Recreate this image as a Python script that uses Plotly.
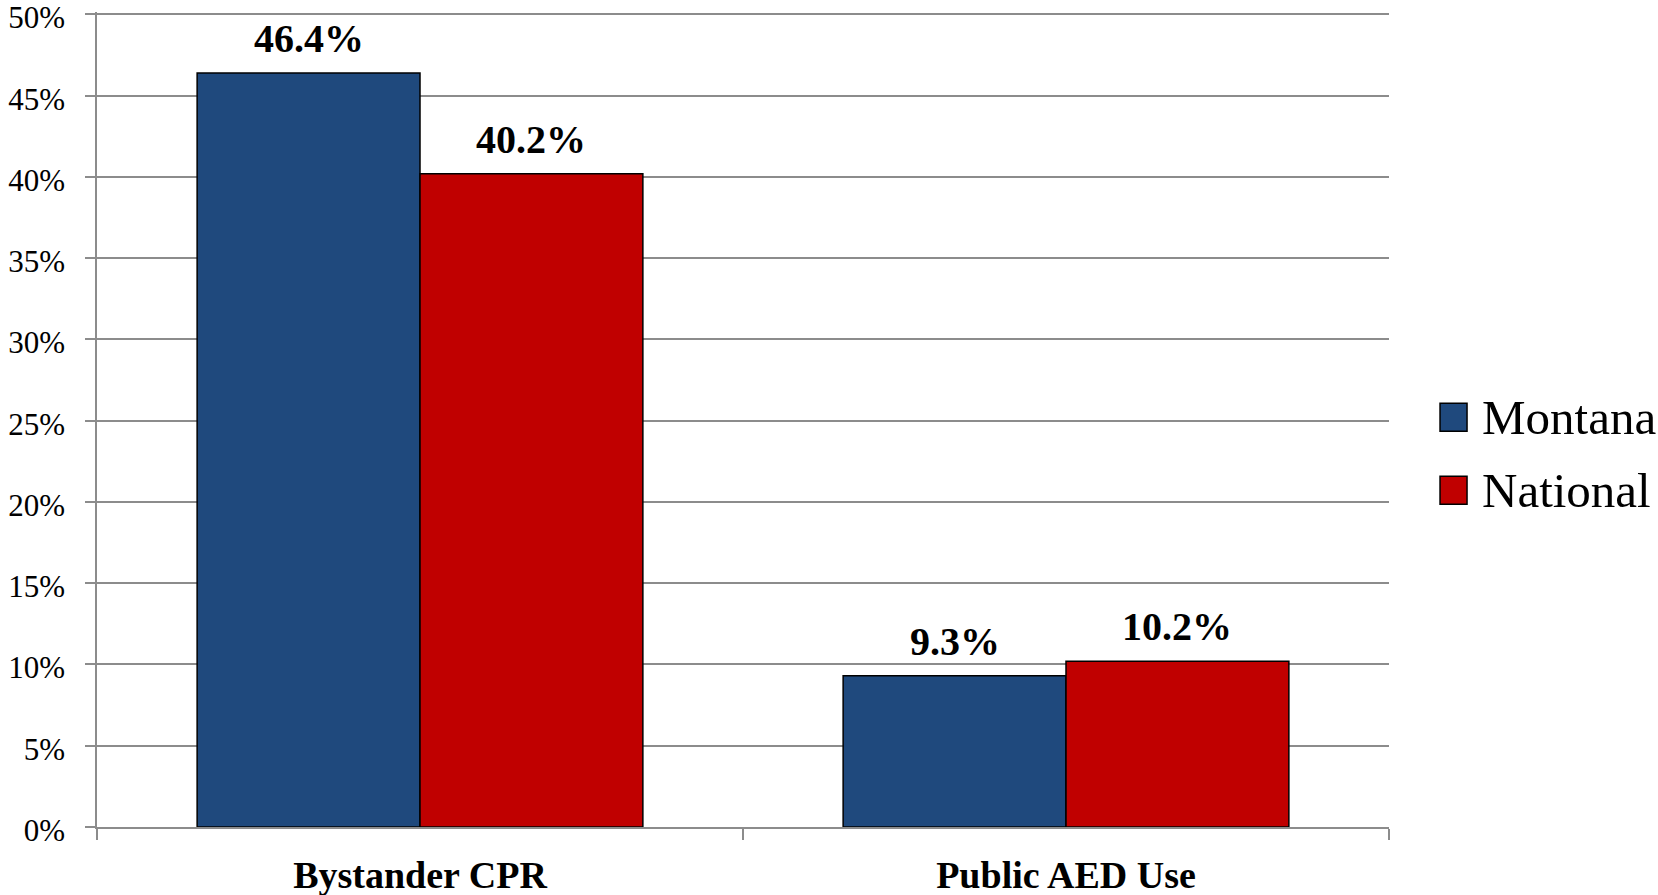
import plotly.graph_objects as go

categories = ["Bystander CPR", "Public AED Use"]
series_names = ["Montana", "National"]
montana = [46.4, 9.3]
national = [40.2, 10.2]
colors = ["#1F497D", "#C00000"]
y_ticks = [0, 5, 10, 15, 20, 25, 30, 35, 40, 45, 50]
y_tick_labels = [f"{v}%" for v in y_ticks]

FONT = "Liberation Serif"
BARGAP = 0.31
values = [montana, national]

fig = go.Figure()
for name, vals, col in zip(series_names, values, colors):
    fig.add_trace(go.Bar(
        x=categories, y=vals, name=name,
        marker=dict(color=col, line=dict(color="#000000", width=1.5)),
        showlegend=False, hoverinfo="skip",
    ))

# data labels
bw = (1 - BARGAP) / 2
for si, vals in enumerate(values):
    off = (si - 0.5) * bw
    for ci, v in enumerate(vals):
        fig.add_annotation(
            x=ci + off, y=v, xref="x", yref="y",
            text=f"<b>{v:.1f}%</b>", showarrow=False,
            yanchor="bottom", yshift=10,
            font=dict(family=FONT, size=40, color="#000000"),
        )

# legend drawn manually
leg_y = [(0.4856, 0.520), (0.3961, 0.4304)]
for (y0, y1), name, col in zip(leg_y, series_names, colors):
    fig.add_shape(type="rect", xref="paper", yref="paper",
                  x0=1.0395, x1=1.0604, y0=y0, y1=y1,
                  fillcolor=col, line=dict(color="#000000", width=1.5))
    fig.add_annotation(x=1.0704, y=(y0 + y1) / 2, xref="paper", yref="paper",
                       text=name, showarrow=False, xanchor="left", yanchor="middle",
                       font=dict(family=FONT, size=49, color="#000000"))

fig.update_layout(
    width=1658, height=895, autosize=False,
    margin=dict(l=97, r=269, t=11.5, b=68, pad=0),
    paper_bgcolor="#FFFFFF", plot_bgcolor="#FFFFFF",
    barmode="group", bargap=BARGAP, bargroupgap=0,
    font=dict(family=FONT, color="#000000"),
)
fig.update_yaxes(
    range=[0, 50.15], tickvals=y_ticks, ticktext=y_tick_labels,
    showgrid=True, gridcolor="#8C8C8C", gridwidth=1.5,
    showline=True, linecolor="#8C8C8C", linewidth=1.5,
    ticks="outside", ticklen=10, tickcolor="#8C8C8C", tickwidth=1.5,
    tickfont=dict(family=FONT, size=31, color="#000000"),
    ticklabelstandoff=14, ticklabeloverflow="allow", ticklabelshift=3,
    zeroline=False, automargin=False,
)
fig.update_xaxes(
    showline=True, linecolor="#8C8C8C", linewidth=1.5,
    ticks="outside", tickson="boundaries", ticklen=11, tickcolor="#8C8C8C", tickwidth=1.5,
    tickfont=dict(family=FONT, size=38, color="#000000"),
    tickprefix="<b>", ticksuffix="</b>", automargin=False,
    ticklabelstandoff=14,
)

fig.write_html("out.html", config={"displayModeBar": False},
               post_script="document.body.style.margin='0';")
